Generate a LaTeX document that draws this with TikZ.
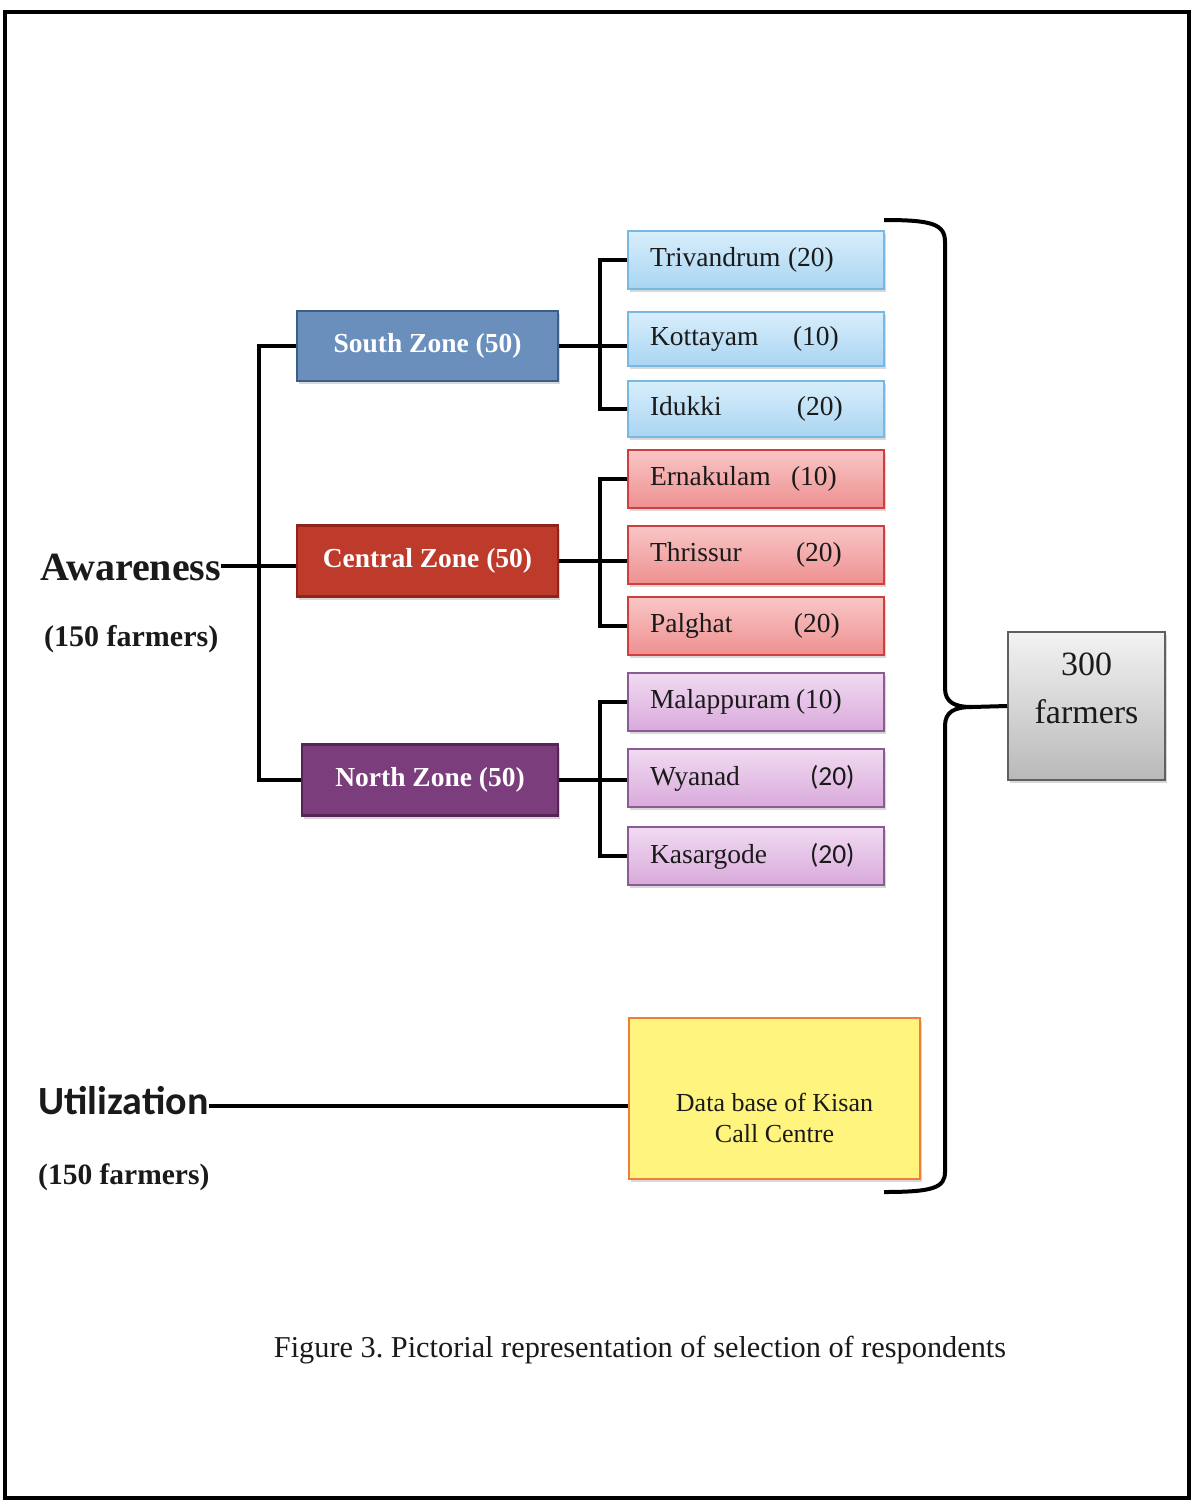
\documentclass[tikz,border=0pt]{standalone}
\usepackage{fontspec}
\setmainfont{Liberation Serif}
\newfontfamily\calib{Carlito}
\usetikzlibrary{shadows}
\frenchspacing
\definecolor{southfill}{HTML}{6A8FBC}
\definecolor{southdraw}{HTML}{3F5E86}
\definecolor{centralfill}{HTML}{BE3A2B}
\definecolor{centraldraw}{HTML}{8F2418}
\definecolor{northfill}{HTML}{7B3D7B}
\definecolor{northdraw}{HTML}{562556}
\definecolor{bluetop}{HTML}{D8EEFB}
\definecolor{bluebot}{HTML}{A9D5F2}
\definecolor{bluedraw}{HTML}{79B8E3}
\definecolor{redtop}{HTML}{F9C6C6}
\definecolor{redbot}{HTML}{EE9090}
\definecolor{reddraw}{HTML}{D03F3F}
\definecolor{purtop}{HTML}{F1DAF1}
\definecolor{purbot}{HTML}{D9AADC}
\definecolor{purdraw}{HTML}{8A5C93}
\definecolor{dbfill}{HTML}{FFF47E}
\definecolor{dbdraw}{HTML}{F07E3A}
\definecolor{txt}{HTML}{1A1A1A}
\newcommand{\dl}[3]{\makebox[#1pt][l]{#2}#3}
\begin{document}
\begin{tikzpicture}[x=1pt,y=-1pt,
  conn/.style={line width=4pt, black},
  shad/.style={drop shadow={shadow xshift=2pt, shadow yshift=-3pt, opacity=0.3}},
  zone/.style={draw, line width=2.5pt, shad, text=white,
    font=\fontsize{27.5}{33}\selectfont\bfseries},
  district/.style={draw, line width=1.5pt, shad, minimum width=256pt, minimum height=58pt,
    text width=212pt, align=left, inner xsep=0pt, text=txt,
    font=\fontsize{27.5}{33}\selectfont},
  bluebox/.style={district, top color=bluetop, bottom color=bluebot, draw=bluedraw},
  redbox/.style={district, top color=redtop, bottom color=redbot, draw=reddraw},
  purbox/.style={district, top color=purtop, bottom color=purbot, draw=purdraw},
  lbl/.style={inner sep=0pt, anchor=base west, text=txt}
]
\useasboundingbox (0,0) rectangle (1192,1502);
\fill[white] (0,0) rectangle (1192,1502);
\draw[line width=3.5pt] (5,12) rectangle (1189,1498);

% zones
\node[zone, fill=southfill, draw=southdraw, minimum width=261pt, minimum height=70pt] (S) at (427.5,346) {South Zone (50)};
\node[zone, fill=centralfill, draw=centraldraw, minimum width=261pt, minimum height=71pt] (C) at (427.5,561) {Central Zone (50)};
\node[zone, fill=northfill, draw=northdraw, minimum width=256pt, minimum height=71pt] (N) at (430,780) {North Zone (50)};

% districts
\node[bluebox] (Tri) at (756,260) {\dl{138}{Trivandrum}{(20)}};
\node[bluebox, minimum height=54pt] (Kot) at (756,339) {\dl{143}{Kottayam}{(10)}};
\node[bluebox, minimum height=56pt] (Idu) at (756,409) {\dl{147}{Idukki}{(20)}};
\node[redbox] (Ern) at (756,479) {\dl{141}{Ernakulam}{(10)}};
\node[redbox] (Thr) at (756,555) {\dl{146}{Thrissur}{(20)}};
\node[redbox] (Pal) at (756,626) {\dl{144}{Palghat}{(20)}};
\node[purbox] (Mal) at (756,702) {\dl{146}{Malappuram}{(10)}};
\node[purbox] (Wya) at (756,778) {\dl{160}{Wyanad}{{\calib (20)}}};
\node[purbox] (Kas) at (756,856) {\dl{160}{Kasargode}{{\calib (20)}}};

% total and database
\node[draw=gray!75!black, line width=2pt, shad, top color=gray!10, bottom color=gray!55,
  minimum width=157pt, minimum height=148pt, align=center, text=txt,
  font=\fontsize{34}{48}\selectfont] (T) at (1086.5,706) {300\\farmers\rule[-36pt]{0pt}{1pt}};
\node[draw=dbdraw, line width=1.5pt, shad, fill=dbfill,
  minimum width=291pt, minimum height=161pt, align=center, text=txt,
  font=\fontsize{26}{31}\selectfont] (D) at (774.5,1098.5) {\rule{0pt}{58pt}Data base of Kisan\\Call Centre};

% left labels
\node[lbl, font=\fontsize{40}{46}\selectfont\bfseries] (A) at (40,580) {Awareness};
\node[lbl, font=\fontsize{30}{35}\selectfont\bfseries] (A2) at (44,646) {(150 farmers)};
\node[lbl, font={\fontsize{40}{46}\selectfont\calib\bfseries}] (U) at (38,1114) {Utilization};
\node[lbl, font=\fontsize{29.5}{34}\selectfont\bfseries] (U2) at (38,1184) {(150 farmers)};

% caption
\node[text=txt, font=\fontsize{30.3}{36}\selectfont] (cap) at (640,1350) {Figure 3. Pictorial representation of selection of respondents};

% connectors
\coordinate (tk) at (259,0);
\coordinate (sb) at (600,0);
\coordinate (a1) at ([yshift=14pt]A.base east);
\coordinate (u1) at ([yshift=8pt]U.base east);
\draw[conn] (a1) -- (a1 -| C.west);
\draw[conn] (S.west) -- (S.west -| tk) -- (N.west -| tk) -- (N.west);
\draw[conn] (Tri.west) -- (Tri.west -| sb) -- (Idu.west -| sb) -- (Idu.west);
\draw[conn] (S.east) -- (S.east -| Kot.west);
\draw[conn] (Ern.west) -- (Ern.west -| sb) -- (Pal.west -| sb) -- (Pal.west);
\draw[conn] (C.east) -- (C.east -| Thr.west);
\draw[conn] (Mal.west) -- (Mal.west -| sb) -- (Kas.west -| sb) -- (Kas.west);
\draw[conn] (N.east) -- (N.east -| Wya.west);
\draw[conn] (u1) -- (u1 -| D.west);

% brace
\coordinate (bt) at (884,220);
\coordinate (bb) at (884,1192);
\coordinate (bc) at (972,707);
\draw[conn] (bt) .. controls (932,220) and (945,224) .. (945,242) -- (945,688)
  .. controls (945,702) and (954,707) .. (bc) -- (T.west);
\draw[conn] (bc) .. controls (954,707) and (945,712) .. (945,726) -- (945,1172)
  .. controls (945,1188) and (932,1192) .. (bb);
\end{tikzpicture}
\end{document}
